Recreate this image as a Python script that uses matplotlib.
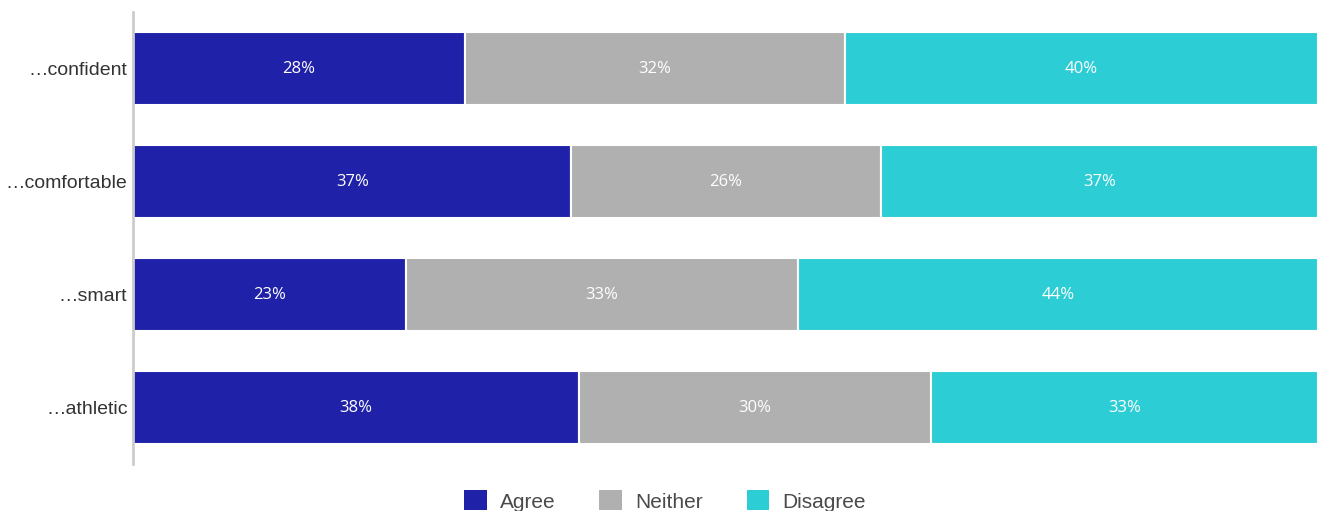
import numpy as np
import matplotlib.pyplot as plt
from matplotlib.patches import Patch

# значения (доли в %)
CATEGORIES = ["…confident", "…comfortable", "…smart", "…athletic"]
SERIES = ["Agree", "Neither", "Disagree"]
AGREE = [28.0, 37.0, 23.0, 37.6]
NEITHER = [32.1, 26.1, 33.1, 29.7]
DISAGREE = [39.9, 36.9, 43.9, 32.7]
COLORS = ["#1f22a8", "#b0b0b0", "#2ccdd4"]


def main():
    fig = plt.figure(figsize=(13.24, 5.11), dpi=100)
    ax = fig.add_axes([133 / 1324, 1 - 464 / 511, (1318 - 133) / 1324, 452 / 511])

    y = np.arange(len(CATEGORIES))
    left = np.zeros(len(CATEGORIES))
    for vals, color in zip([AGREE, NEITHER, DISAGREE], COLORS):
        vals = np.array(vals)
        ax.barh(y, vals, left=left, height=0.645, color=color,
                edgecolor="white", linewidth=1.5)
        for yi, l, v in zip(y, left, vals):
            ax.text(l + v / 2, yi, f"{round(v):d}%", ha="center", va="center",
                    color="white", fontsize=12, family="Open Sans")
        left += vals

    ax.set_xlim(0, 100)
    ax.set_ylim(len(CATEGORIES) - 0.5, -0.5)
    ax.set_yticks(y)
    ax.set_yticklabels(CATEGORIES, fontsize=14, color="#333333",
                       family="Liberation Sans")
    ax.tick_params(axis="y", length=0, pad=4)
    ax.set_xticks([])
    for side in ["top", "right", "bottom"]:
        ax.spines[side].set_visible(False)
    ax.spines["left"].set_color("#cccccc")
    ax.spines["left"].set_linewidth(2)

    handles = [Patch(facecolor=c, edgecolor="none") for c in COLORS]
    fig.legend(handles, SERIES, loc="center", bbox_to_anchor=(665 / 1324, 1 - 501 / 511),
               ncol=3, frameon=False, handlelength=1.1, handleheight=1.1,
               columnspacing=2.1, handletextpad=0.62,
               prop={"family": "Liberation Sans", "size": 15},
               labelcolor="#4a4a4a")

    fig.savefig("out.png", dpi=100)
    plt.close(fig)


if __name__ == "__main__":
    main()
